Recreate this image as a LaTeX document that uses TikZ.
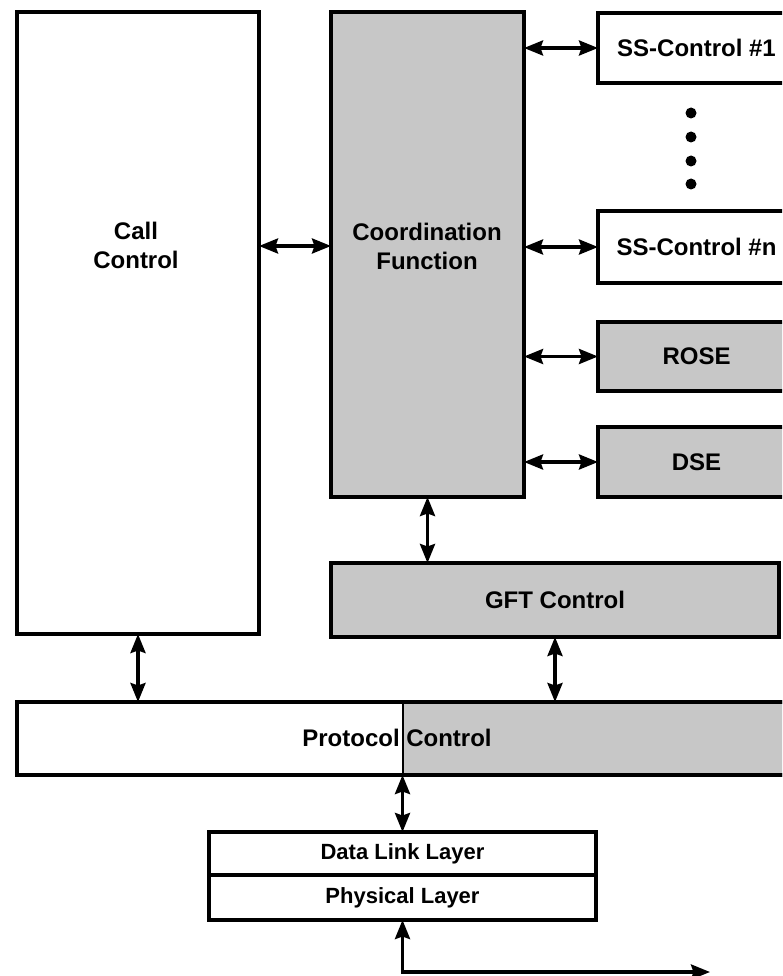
\documentclass[tikz,border=0pt]{standalone}
\usepackage{fontspec}
\setmainfont{Liberation Sans}
\usetikzlibrary{arrows.meta}
\begin{document}
\begin{tikzpicture}[x=1pt,y=-1pt,
  box/.style={draw, line width=3.2pt, inner sep=0pt, outer sep=0pt, anchor=north west,
              font=\fontsize{24}{29}\selectfont\bfseries},
  shaded/.style={fill=black!22},
  lbl/.style={font=\fontsize{24}{29}\selectfont\bfseries, align=center, inner sep=0pt},
  arr/.style={line width=3.4pt,
    {Stealth[length=19pt,width=15pt,inset=2.5pt]}-{Stealth[length=19pt,width=15pt,inset=2.5pt]}},
  dotnode/.style={circle, fill=black, inner sep=0pt, minimum size=11pt}]
\path[use as bounding box] (0,0) rectangle (782,976);
\clip (0,0) rectangle (782,976);

% main boxes
\node[box, minimum width=242, minimum height=622] (call) at (17,12) {};
\node[lbl] (calltext) at (136,245) {Call\\Control};

\node[box, shaded, minimum width=193, minimum height=485] (coord) at (331,12) {};
\node[lbl] (coordtext) at (427,246) {Coordination\\Function};

\node[box, minimum width=197, minimum height=70] (ss1) at (598,13) {SS-Control \#1};
\node[box, minimum width=197, minimum height=72] (ssn) at (598,211) {SS-Control \#n};
\node[box, shaded, minimum width=197, minimum height=69] (rose) at (598,322) {ROSE};
\node[box, shaded, minimum width=197, minimum height=70] (dse) at (598,427) {DSE};

\node[dotnode] (d1) at (691,113) {};
\node[dotnode] (d2) at (691,137) {};
\node[dotnode] (d3) at (691,161) {};
\node[dotnode] (d4) at (691,184) {};

\node[box, shaded, minimum width=448, minimum height=74] (gft) at (331,563) {GFT Control};

% protocol control, half shaded
\coordinate (split) at (403,0);
\node[box, minimum width=790, minimum height=73] (proto) at (17,702) {};
\fill[black!22] (proto.north -| split) rectangle (proto.south east);
\node[box, minimum width=790, minimum height=73] (protoframe) at (17,702) {};
\draw[line width=2.4pt] (proto.north -| split) -- (proto.south -| split);
\node[lbl] (prototext) at (397,738) {Protocol Control};

% layers
\node[box, font=\fontsize{22}{26}\selectfont\bfseries, minimum width=387, minimum height=43] (dl) at (209,832) {Data Link Layer};
\node[box, font=\fontsize{22}{26}\selectfont\bfseries, minimum width=387, minimum height=45] (phys) at (209,875) {Physical Layer};
\coordinate (lineend) at (710,972);

% connectors
\draw[arr] (coordtext.west -| call.east) -- (coordtext.west -| coord.west);
\draw[arr] (ss1.west -| coord.east) -- (ss1.west);
\draw[arr] (ssn.west -| coord.east) -- (ssn.west);
\draw[arr] (rose.west -| coord.east) -- (rose.west);
\draw[arr] (dse.west -| coord.east) -- (dse.west);
\draw[arr] (coord.south) -- (coord.south |- gft.north);
\draw[arr] (call.south) -- (call.south |- proto.north);
\draw[arr] (gft.south) -- (gft.south |- proto.north);
\draw[arr] (dl.north |- proto.south) -- (dl.north);
\draw[arr] (phys.south) -- (phys.south |- lineend) -- (lineend);
\end{tikzpicture}
\end{document}
